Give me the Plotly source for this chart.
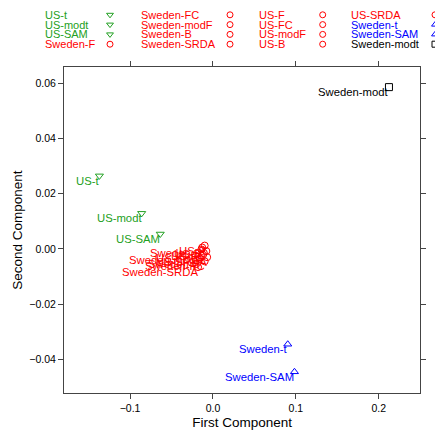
import plotly.graph_objects as go

# ---- data ----
names = ["US-t", "US-modt", "US-SAM", "Sweden-F",
         "Sweden-FC", "Sweden-modF", "Sweden-B", "Sweden-SRDA",
         "US-F", "US-FC", "US-modF", "US-B",
         "US-SRDA", "Sweden-t", "Sweden-SAM", "Sweden-modt"]
first_comp = [-0.137, -0.086, -0.0636, -0.013,
              -0.010, -0.012, -0.016, -0.018,
              -0.010, -0.008, -0.011, -0.014,
              -0.007, 0.0902, 0.0983, 0.2123]
second_comp = [0.0265, 0.0129, 0.0054, 0.0005,
               -0.0045, -0.0022, -0.0035, -0.0066,
               0.0012, -0.0008, -0.0015, -0.0002,
               -0.0030, -0.0346, -0.0446, 0.0587]
group = ["t", "t", "t", "F", "F", "F", "F", "F",
         "F", "F", "F", "F", "F", "tS", "tS", "modtS"]

# ---- styles ----
GREEN, RED, BLUE, BLACK = "#22A022", "#FF0000", "#0000FF", "#000000"
style = {"t": (GREEN, "triangle-down-open"),
         "F": (RED, "circle-open"),
         "tS": (BLUE, "triangle-up-open"),
         "modtS": (BLACK, "square-open")}
colors = [style[g][0] for g in group]
symbols = [style[g][1] for g in group]

FONT = "Liberation Sans, Arial, Helvetica, sans-serif"
W = H = 443
OFF = 8.0                   # browser default body margin
PX0, PX1 = 64.0 - OFF, 420.3 - OFF   # panel left/right in figure pixels
PY0, PY1 = 67.0 - OFF, 393.3 - OFF   # panel top/bottom in figure pixels

fig = go.Figure()
fig.add_trace(go.Scatter(
    x=first_comp, y=second_comp, mode="markers",
    marker=dict(symbol=symbols, color=colors, size=7,
                line=dict(width=1, color=colors)),
    showlegend=False, hoverinfo="skip"))

annotations = []
for n, xv, yv, c in zip(names, first_comp, second_comp, colors):
    annotations.append(dict(x=xv, y=yv, xref="x", yref="y", text=n,
                            showarrow=False, xanchor="right", yanchor="top",
                            xshift=2, yshift=3,
                            font=dict(family=FONT, size=11.3, color=c)))

# ---- key (top legend, 4 columns x 4 rows), placed in a full-page overlay axis ----
col_text_px = [45.7, 141.7, 260, 352.3]
col_sym_px = [110, 230, 322.7, 435]
row_px = [14.8, 24.6, 34.4, 44.2]
kx, ky, kc, ks = [], [], [], []
for i, (n, c, s) in enumerate(zip(names, colors, symbols)):
    ci, ri = divmod(i, 4)
    ty = H - (row_px[ri] - OFF)
    annotations.append(dict(x=col_text_px[ci] - OFF, y=ty, xref="x2", yref="y2",
                            text=n, showarrow=False, xanchor="left",
                            yanchor="middle", xshift=-3,
                            font=dict(family=FONT, size=11, color=c)))
    kx.append(col_sym_px[ci] - OFF)
    ky.append(ty)
    kc.append(c)
    ks.append(s)

fig.add_trace(go.Scatter(
    x=kx, y=ky, xaxis="x2", yaxis="y2", mode="markers", cliponaxis=False,
    marker=dict(symbol=ks, color=kc, size=6, line=dict(width=1, color=kc)),
    showlegend=False, hoverinfo="skip"))

axis_common = dict(showgrid=False, zeroline=False, showline=True,
                   linecolor="#444444", linewidth=1, mirror="ticks",
                   ticks="outside", ticklen=5, tickcolor="#444444",
                   automargin=False,
                   tickfont=dict(family=FONT, size=10.5, color="#000000"))

fig.update_layout(
    width=W, height=H, margin=dict(l=0, r=0, t=0, b=0, pad=0, autoexpand=False),
    plot_bgcolor="rgba(0,0,0,0)", paper_bgcolor="white",
    xaxis=dict(domain=[PX0 / W, PX1 / W], anchor="y",
               range=[-0.1797, 0.2501], tickvals=[-0.1, 0.0, 0.1, 0.2],
               ticktext=["\u22120.1", "0.0", "0.1", "0.2"],
               title=dict(text="First Component", standoff=4,
                          font=dict(family=FONT, size=13.5, color="#000000")),
               **axis_common),
    yaxis=dict(domain=[(H - PY1) / H, (H - PY0) / H], anchor="x",
               range=[-0.0524, 0.066],
               tickvals=[-0.04, -0.02, 0.0, 0.02, 0.04, 0.06],
               ticktext=["\u22120.04", "\u22120.02", "0.00", "0.02", "0.04", "0.06"],
               title=dict(text="Second Component", standoff=3,
                          font=dict(family=FONT, size=13.5, color="#000000")),
               **axis_common),
    xaxis2=dict(domain=[0, 1], anchor="y2", range=[0, W], visible=False,
                fixedrange=True),
    yaxis2=dict(domain=[0, 1], anchor="x2", range=[0, H], visible=False,
                fixedrange=True),
    annotations=annotations,
    showlegend=False,
)

fig.write_html("out.html")
